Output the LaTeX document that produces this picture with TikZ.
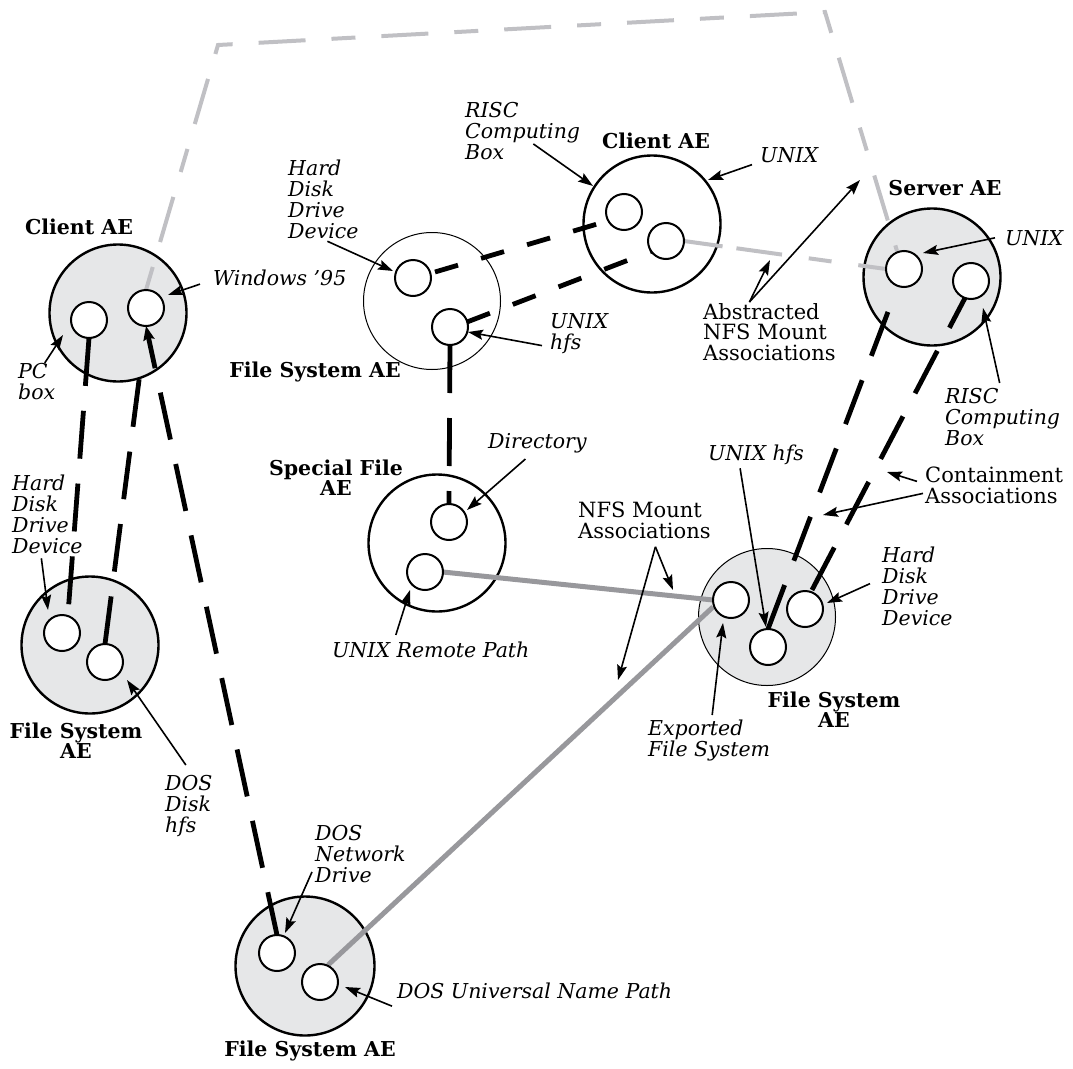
\documentclass[tikz,border=0pt]{standalone}
\usepackage{fontspec}
\setmainfont{DejaVu Serif}
\usetikzlibrary{arrows.meta}
\pgfdeclarelayer{bg}\pgfdeclarelayer{mid}\pgfsetlayers{bg,mid,main}
\definecolor{aefill}{RGB}{230,231,232}
\definecolor{solidgray}{RGB}{152,152,156}
\definecolor{dashgray}{RGB}{192,192,196}
\begin{document}
\begin{tikzpicture}[x=1pt,y=-1pt,
  bigae/.style={circle,draw=black,line width=2.4pt,minimum size=137pt,inner sep=0pt,outer sep=0pt},
  grayae/.style={bigae,fill=aefill},
  whiteae/.style={bigae,fill=white},
  thinae/.style={bigae,line width=1pt},
  port/.style={circle,draw=black,fill=white,line width=2pt,minimum size=36pt,inner sep=0pt,outer sep=0pt},
  title/.style={font=\fontsize{20.5}{20}\selectfont\bfseries,align=center,inner sep=0pt},
  itlabel/.style={font=\fontsize{20.5}{21}\selectfont\itshape,align=left,inner sep=0pt,anchor=north west},
  rmlabel/.style={font=\fontsize{21}{20.5}\selectfont,align=left,inner sep=0pt,anchor=north west},
  pointer/.style={line width=1.6pt,-{Stealth[length=15pt,width=10pt,inset=2.5pt]}},
  contain/.style={line width=4.8pt,dash pattern=on 48pt off 25pt},
  containshort/.style={line width=4.8pt,dash pattern=on 24pt off 24pt},
  mount/.style={line width=5pt,draw=solidgray},
  abstract/.style={line width=4pt,draw=dashgray,dash pattern=on 24pt off 26pt on 47pt off 26pt},
]
\useasboundingbox (0,0) rectangle (1073,1068);

% application entities
\begin{pgfonlayer}{bg}
\node[grayae] (cl) at (118,313) {};
\node[grayae] (fsl) at (90,645) {};
\node[grayae,minimum size=139pt] (fsb) at (305,966) {};
\node[whiteae] (sf) at (437,543) {};
\node[thinae,fill=white] (fst) at (432,301) {};
\node[whiteae] (ct) at (652,224) {};
\node[grayae] (sv) at (932,277) {};
\node[thinae,fill=aefill] (fsr) at (767,617) {};
\end{pgfonlayer}

% ports
\node[port] (clpc) at (89,320) {};
\node[port] (clwin) at (146,308) {};
\node[port] (fslhd) at (62,633) {};
\node[port] (fsldos) at (105,662) {};
\node[port] (fsbnet) at (277,953) {};
\node[port] (fsbunc) at (320,982) {};
\node[port] (sfdir) at (449,522) {};
\node[port] (sfrem) at (425,572) {};
\node[port] (fsthd) at (413,278) {};
\node[port] (fsthfs) at (450,327) {};
\node[port] (ctrisc) at (624,212) {};
\node[port] (ctunix) at (666,241) {};
\node[port] (svunix) at (904,269) {};
\node[port] (svrisc) at (971,281) {};
\node[port] (fsrexp) at (731,600) {};
\node[port] (fsrhfs) at (768,647) {};
\node[port] (fsrhd) at (805,609) {};

\coordinate (g1) at (218,45);
\coordinate (g2) at (825,12);

% associations
\begin{pgfonlayer}{mid}
\draw[abstract] (clwin.north) -- (g1) -- (g2) -- ([shift={(-7,-18)}]svunix.center);
\draw[abstract,dash pattern=on 28pt off 27pt on 23pt off 27pt on 46pt off 14pt on 40pt] (svunix.west) -- (ctunix.east);
\draw[contain] (clpc.south) -- ([shift={(6,-19)}]fslhd.center);
\draw[contain,shorten >=48pt] (fsldos.north) -- (clwin.south);
\draw[contain,dash phase=16pt,{Stealth[length=14pt,width=11pt,inset=2pt]}-] (clwin.south) -- (fsbnet.north);
\draw[containshort] ([shift={(22,-6)}]fsthd.center) -- ([shift={(-20,10)}]ctrisc.center);
\draw[containshort,dash pattern=on 24.5pt off 24.5pt] ([shift={(17,-5)}]fsthfs.center) -- ([shift={(-14,10)}]ctunix.center);
\draw[contain] (fsthfs.south) -- (sfdir.north);
\draw[contain,dash pattern=on 47pt off 26pt] (fsrhfs.north) -- ([shift={(-7,19)}]svunix.center);
\draw[contain,dash pattern=on 48pt off 26pt] ([shift={(7,-19)}]fsrhd.center) -- ([shift={(-6,17)}]svrisc.center);
\draw[mount] (sfrem.east) -- (fsrexp.west);
\draw[mount] ([shift={(8,-17)}]fsbunc.center) -- ([shift={(-18,7)}]fsrexp.center);
\end{pgfonlayer}

% titles
\node[title] (tcl) at (79,227) {Client AE};
\node[title] (tfsl) at (76,741) {File System\\AE};
\node[title] (tfsb) at (310,1051) {File System AE};
\node[title] (tsf) at (336,478) {Special File\\AE};
\node[title] (tfst) at (315,372) {File System AE};
\node[title] (tct) at (656,141) {Client AE};
\node[title] (tsv) at (945,188) {Server AE};
\node[title] (tfsr) at (834,710) {File System\\AE};

% labels
\node[itlabel] (lwin) at (213,270) {Windows ’95};
\node[itlabel] (lpc) at (18,363) {PC\\box};
\node[itlabel] (lhdl) at (12,475) {Hard\\Disk\\Drive\\Device};
\node[itlabel] (ldos) at (165,775) {DOS\\Disk\\hfs};
\node[itlabel] (lhdt) at (288,160) {Hard\\Disk\\Drive\\Device};
\node[itlabel] (lhfst) at (550,313) {UNIX\\hfs};
\node[itlabel] (lrisct) at (465,102) {RISC\\Computing\\Box};
\node[itlabel] (lunixt) at (760,147) {UNIX};
\node[rmlabel] (labs) at (703,303) {Abstracted\\NFS Mount\\Associations};
\node[itlabel] (lunixs) at (1005,230) {UNIX};
\node[itlabel] (lriscs) at (945,388) {RISC\\Computing\\Box};
\node[rmlabel] (lcont) at (925,467) {Containment\\Associations};
\node[itlabel] (lhdr) at (882,547) {Hard\\Disk\\Drive\\Device};
\node[itlabel] (lhfsr) at (708,445) {UNIX hfs};
\node[itlabel] (lexp) at (648,720) {Exported\\File System};
\node[rmlabel] (lnfs) at (578,502) {NFS Mount\\Associations};
\node[itlabel] (ldir) at (488,433) {Directory};
\node[itlabel] (lrem) at (332,642) {UNIX Remote Path};
\node[itlabel] (lnet) at (315,825) {DOS\\Network\\Drive};
\node[itlabel] (lunc) at (397,983) {DOS Universal Name Path};

\coordinate (absa) at (860,180);
\coordinate (absb) at (770,260);
\coordinate (conta) at (887,472);
\coordinate (contb) at (823,515);
\coordinate (nfsa) at (673,590);
\coordinate (nfsb) at (618,680);

% pointers
\draw[pointer] ([shift={(-13,6)}]lwin.west) -- ([shift={(22,-13)}]clwin.center);
\draw[pointer] ([shift={(8,0)}]lpc.north) -- ([shift={(-55,22)}]cl.center);
\draw[pointer] ([shift={(-6,4)}]lhdl.south) -- ([shift={(-14,-23)}]fslhd.center);
\draw[pointer] ([shift={(-3,-10)}]ldos.north) -- ([shift={(22,18)}]fsldos.center);
\draw[pointer] ([shift={(4,2)}]lhdt.south) -- ([shift={(-20,-7)}]fsthd.center);
\draw[pointer] ([shift={(-8,-8)}]lhfst.south west) -- ([shift={(18,5)}]fsthfs.center);
\draw[pointer] ([shift={(-47,-16)}]lrisct.south east) -- ([shift={(-59,-38)}]ct.center);
\draw[pointer] ([shift={(-8,2)}]lunixt.south west) -- ([shift={(56,-44)}]ct.center);
\draw[pointer] ([shift={(-20,-1)}]labs.north) -- (absa);
\draw[pointer] ([shift={(-20,-1)}]labs.north) -- (absb);
\draw[pointer] ([shift={(-10,0)}]lunixs.west) -- ([shift={(19,-16)}]svunix.center);
\draw[pointer] ([shift={(-3,-5)}]lriscs.north) -- ([shift={(12,27)}]svrisc.center);
\draw[pointer] ([shift={(-8,-4)}]lcont.west) -- (conta);
\draw[pointer] ([shift={(-2,8)}]lcont.west) -- (contb);
\draw[pointer] ([shift={(-12,-3)}]lhdr.west) -- ([shift={(22,-6)}]fsrhd.center);
\draw[pointer] ([shift={(-16,3)}]lhfsr.south) -- ([shift={(-2,-20)}]fsrhfs.center);
\draw[pointer] ([shift={(3,-5)}]lexp.north) -- ([shift={(-8,23)}]fsrexp.center);
\draw[pointer] ([shift={(11,8)}]lnfs.south) -- (nfsa);
\draw[pointer] ([shift={(11,8)}]lnfs.south) -- (nfsb);
\draw[pointer] ([shift={(-12,6)}]ldir.south) -- ([shift={(18,-12)}]sfdir.center);
\draw[pointer] ([shift={(-35,-7)}]lrem.north) -- ([shift={(-15,18)}]sfrem.center);
\draw[pointer] ([shift={(-3,-11)}]lnet.south west) -- ([shift={(8,-20)}]fsbnet.center);
\draw[pointer] ([shift={(-5,15)}]lunc.west) -- ([shift={(25,5)}]fsbunc.center);
\end{tikzpicture}
\end{document}
